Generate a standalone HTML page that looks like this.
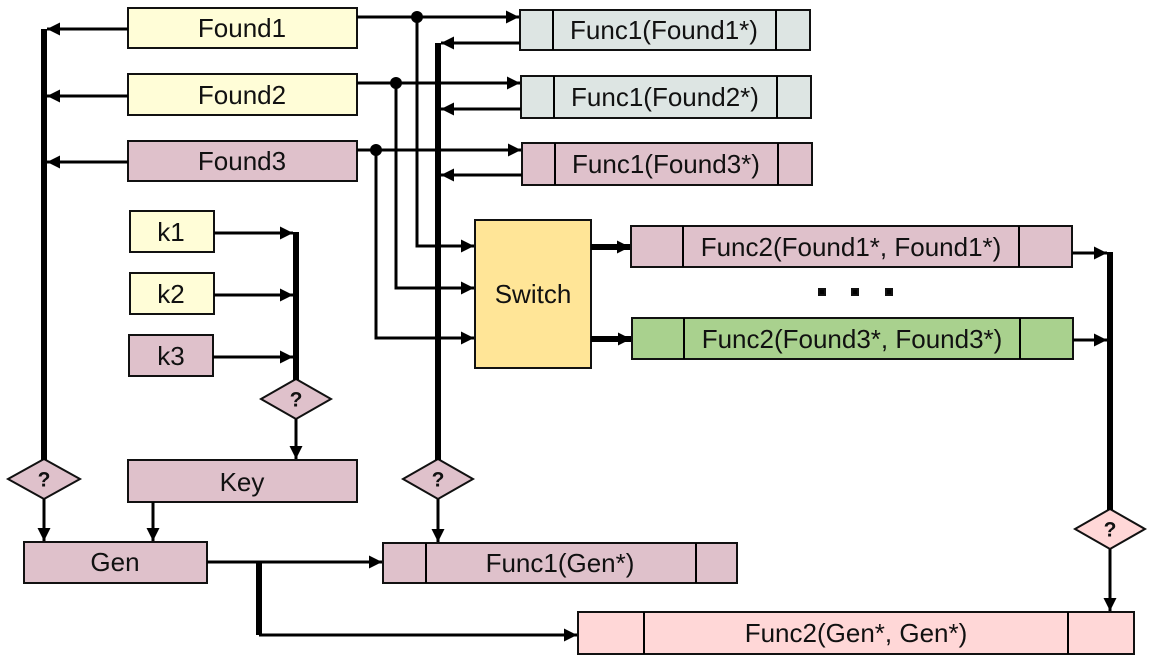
<!DOCTYPE html>
<html><head><meta charset="utf-8"><style>
html,body{margin:0;padding:0;background:#fff;}
svg{display:block;}
text{font-family:"Liberation Sans",sans-serif;font-size:26px;fill:#111;text-anchor:middle;dominant-baseline:central;}
.q{font-weight:bold;font-size:21px;}
rect,polygon.d{stroke:#111;stroke-width:2;}
line,polyline{stroke:#000;fill:none;}
</style></head><body>
<svg width="1152" height="663" viewBox="0 0 1152 663" xmlns="http://www.w3.org/2000/svg">
<defs>
<marker id="a" markerWidth="14" markerHeight="13" refX="10" refY="5" orient="auto" markerUnits="userSpaceOnUse" viewBox="0 0 10 10"><path d="M0,0 L10,5 L0,10 z" fill="#000"/></marker>
</defs>
<rect x="128" y="8" width="229" height="40" fill="#fffdd7"/><text x="242" y="28">Found1</text>
<rect x="128" y="74" width="229" height="41" fill="#fffdd7"/><text x="242" y="95">Found2</text>
<rect x="128" y="141" width="229" height="40" fill="#dfc1cb"/><text x="242" y="161">Found3</text>

<rect x="130" y="211" width="84" height="41" fill="#fffdd7"/><text x="171" y="232">k1</text>
<rect x="130" y="273" width="84" height="41" fill="#fffdd7"/><text x="171" y="294">k2</text>
<rect x="129" y="335" width="84" height="41" fill="#dfc1cb"/><text x="171" y="356">k3</text>

<rect x="128" y="460" width="229" height="42" fill="#dfc1cb"/><text x="242" y="482">Key</text>
<rect x="24" y="542" width="183" height="41" fill="#dfc1cb"/><text x="115" y="562">Gen</text>

<rect x="520" y="10" width="290" height="40" fill="#dde5e3"/><line x1="553" y1="10" x2="553" y2="50" stroke-width="2"/><line x1="776" y1="10" x2="776" y2="50" stroke-width="2"/><text x="664" y="30">Func1(Found1*)</text>
<rect x="521" y="76" width="290" height="42" fill="#dde5e3"/><line x1="554" y1="76" x2="554" y2="118" stroke-width="2"/><line x1="777" y1="76" x2="777" y2="118" stroke-width="2"/><text x="665" y="97">Func1(Found2*)</text>
<rect x="522" y="143" width="290" height="42" fill="#dfc1cb"/><line x1="555" y1="143" x2="555" y2="185" stroke-width="2"/><line x1="778" y1="143" x2="778" y2="185" stroke-width="2"/><text x="666" y="164">Func1(Found3*)</text>

<rect x="475" y="220" width="116" height="148" fill="#ffe597"/><text x="533" y="294">Switch</text>

<rect x="631" y="226" width="441" height="41" fill="#dfc1cb"/><line x1="683" y1="226" x2="683" y2="267" stroke-width="2"/><line x1="1019" y1="226" x2="1019" y2="267" stroke-width="2"/><text x="851" y="247">Func2(Found1*, Found1*)</text>
<rect x="632" y="318" width="441" height="41" fill="#a9d18e"/><line x1="684" y1="318" x2="684" y2="359" stroke-width="2"/><line x1="1020" y1="318" x2="1020" y2="359" stroke-width="2"/><text x="852" y="339">Func2(Found3*, Found3*)</text>
<rect x="819" y="289" width="6" height="6" fill="#000" stroke="none"/><rect x="852" y="289" width="6" height="6" fill="#000" stroke="none"/><rect x="886" y="289" width="6" height="6" fill="#000" stroke="none"/>

<rect x="383" y="543" width="354" height="40" fill="#dfc1cb"/><line x1="426" y1="543" x2="426" y2="583" stroke-width="2"/><line x1="696" y1="543" x2="696" y2="583" stroke-width="2"/><text x="560" y="563">Func1(Gen*)</text>
<rect x="578" y="612" width="556" height="42" fill="#ffd7d7"/><line x1="644" y1="612" x2="644" y2="654" stroke-width="2"/><line x1="1068" y1="612" x2="1068" y2="654" stroke-width="2"/><text x="856" y="633">Func2(Gen*, Gen*)</text>

<polygon class="d" points="44,459 80,479 44,499 8,479" fill="#dfc1cb"/><text class="q" x="44" y="480">?</text>
<polygon class="d" points="296,379 331,399 296,419 261,399" fill="#dfc1cb"/><text class="q" x="296" y="400">?</text>
<polygon class="d" points="438,459 473,479 438,499 403,479" fill="#dfc1cb"/><text class="q" x="438" y="480">?</text>
<polygon class="d" points="1110,509 1145,529 1110,549 1075,529" fill="#ffd7d7"/><text class="q" x="1110" y="530">?</text>

<line x1="44" y1="29" x2="44" y2="460" stroke-width="6"/>
<line x1="128" y1="29" x2="47" y2="29" stroke-width="3" marker-end="url(#a)"/>
<line x1="128" y1="96" x2="47" y2="96" stroke-width="3" marker-end="url(#a)"/>
<line x1="128" y1="162" x2="47" y2="162" stroke-width="3" marker-end="url(#a)"/>
<line x1="44" y1="499" x2="44" y2="541" stroke-width="3" marker-end="url(#a)"/>
<line x1="153" y1="502" x2="153" y2="541" stroke-width="3" marker-end="url(#a)"/>

<line x1="296" y1="232" x2="296" y2="380" stroke-width="6"/>
<line x1="214" y1="233" x2="293" y2="233" stroke-width="3" marker-end="url(#a)"/>
<line x1="214" y1="295" x2="293" y2="295" stroke-width="3" marker-end="url(#a)"/>
<line x1="213" y1="357" x2="293" y2="357" stroke-width="3" marker-end="url(#a)"/>
<line x1="296" y1="419" x2="296" y2="459" stroke-width="3" marker-end="url(#a)"/>

<line x1="357" y1="17" x2="519" y2="17" stroke-width="3" marker-end="url(#a)"/>
<line x1="357" y1="83" x2="520" y2="83" stroke-width="3" marker-end="url(#a)"/>
<line x1="357" y1="150" x2="521" y2="150" stroke-width="3" marker-end="url(#a)"/>
<circle cx="417" cy="17" r="6" fill="#000"/>
<circle cx="396" cy="83" r="6" fill="#000"/>
<circle cx="376" cy="150" r="6" fill="#000"/>
<polyline points="417,17 417,246 474,246" stroke-width="3" marker-end="url(#a)"/>
<polyline points="396,83 396,288 474,288" stroke-width="3" marker-end="url(#a)"/>
<polyline points="376,150 376,338 474,338" stroke-width="3" marker-end="url(#a)"/>

<line x1="438" y1="43" x2="438" y2="460" stroke-width="6"/>
<line x1="520" y1="43" x2="441" y2="43" stroke-width="3" marker-end="url(#a)"/>
<line x1="521" y1="109" x2="441" y2="109" stroke-width="3" marker-end="url(#a)"/>
<line x1="522" y1="175" x2="441" y2="175" stroke-width="3" marker-end="url(#a)"/>
<line x1="438" y1="499" x2="438" y2="542" stroke-width="3" marker-end="url(#a)"/>

<line x1="591" y1="247" x2="630" y2="247" stroke-width="6" marker-end="url(#a)"/>
<line x1="591" y1="339" x2="631" y2="339" stroke-width="6" marker-end="url(#a)"/>

<line x1="1110" y1="252" x2="1110" y2="510" stroke-width="6"/>
<line x1="1072" y1="253" x2="1107" y2="253" stroke-width="3" marker-end="url(#a)"/>
<line x1="1073" y1="340" x2="1107" y2="340" stroke-width="3" marker-end="url(#a)"/>
<line x1="1110" y1="549" x2="1110" y2="611" stroke-width="3" marker-end="url(#a)"/>

<line x1="207" y1="562" x2="382" y2="562" stroke-width="3" marker-end="url(#a)"/>
<line x1="259" y1="562" x2="259" y2="635" stroke-width="6"/>
<line x1="259" y1="635" x2="577" y2="635" stroke-width="3" marker-end="url(#a)"/>
</svg>
</body></html>
